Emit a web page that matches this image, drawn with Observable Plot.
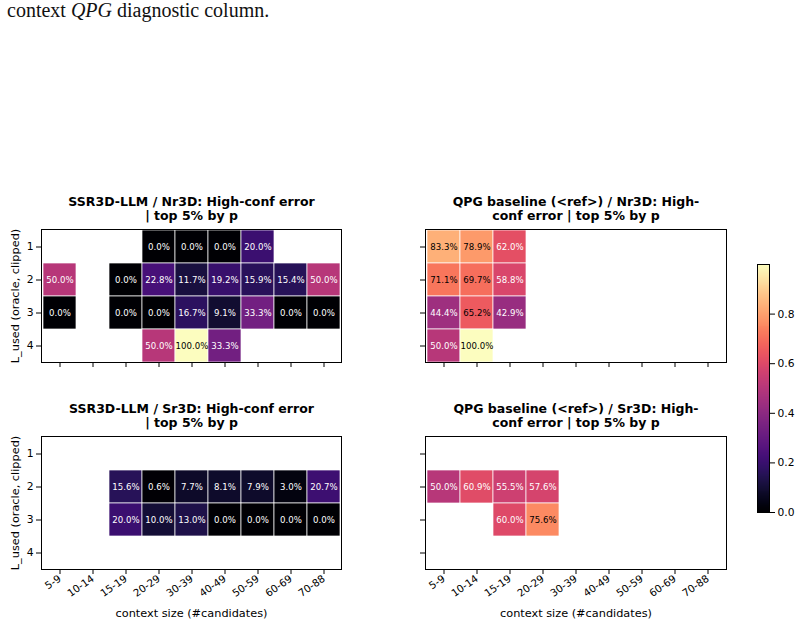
<!DOCTYPE html>
<html><head><meta charset="utf-8">
<script src="https://cdn.jsdelivr.net/npm/d3@7"></script>
<script src="https://cdn.jsdelivr.net/npm/@observablehq/plot@0.6"></script>
<style>
body{margin:0;background:white;}
#root{position:relative;width:800px;height:625px;overflow:hidden;font-family:"DejaVu Sans",sans-serif;background:white;}
#root svg{position:absolute;font-family:"DejaVu Sans",sans-serif !important;}
#root svg text{font-family:"DejaVu Sans",sans-serif !important;}
#lead{position:absolute;left:7px;top:-1px;font-family:"Liberation Serif","Times New Roman",serif;font-size:20px;line-height:23px;color:#111;white-space:nowrap;}
</style></head><body><div id="root"><div id="lead">context <i>QPG</i> diagnostic column.</div></div>
<script>
const contextBins = ["5-9","10-14","15-19","20-29","30-39","40-49","50-59","60-69","70-88"];
const lUsedLevels = [1, 2, 3, 4];
const colorbarTicks = [0, 0.2, 0.4, 0.6, 0.8];
// values in %, null = empty cell; rows = L_used 1..4, columns = contextBins
const ssrNr3d = [
  [null, null, null, 0.0, 0.0, 0.0, 20.0, null, null],
  [50.0, null, 0.0, 22.8, 11.7, 19.2, 15.9, 15.4, 50.0],
  [0.0, null, 0.0, 0.0, 16.7, 9.1, 33.3, 0.0, 0.0],
  [null, null, null, 50.0, 100.0, 33.3, null, null, null]
];
const qpgNr3d = [
  [83.3, 78.9, 62.0, null, null, null, null, null, null],
  [71.1, 69.7, 58.8, null, null, null, null, null, null],
  [44.4, 65.2, 42.9, null, null, null, null, null, null],
  [50.0, 100.0, null, null, null, null, null, null, null]
];
const ssrSr3d = [
  [null, null, null, null, null, null, null, null, null],
  [null, null, 15.6, 0.6, 7.7, 8.1, 7.9, 3.0, 20.7],
  [null, null, 20.0, 10.0, 13.0, 0.0, 0.0, 0.0, 0.0],
  [null, null, null, null, null, null, null, null, null]
];
const qpgSr3d = [
  [null, null, null, null, null, null, null, null, null],
  [50.0, 60.9, 55.5, 57.6, null, null, null, null, null],
  [null, null, 60.0, 75.6, null, null, null, null, null],
  [null, null, null, null, null, null, null, null, null]
];
const titles = [
  "SSR3D-LLM / Nr3D: High-conf error\n| top 5% by p",
  "QPG baseline (<ref>) / Nr3D: High-\nconf error | top 5% by p",
  "SSR3D-LLM / Sr3D: High-conf error\n| top 5% by p",
  "QPG baseline (<ref>) / Sr3D: High-\nconf error | top 5% by p"
];
const yLabel = "L_used (oracle, clipped)";
const xLabel = "context size (#candidates)";

const colorScale = {type: "linear", scheme: "magma", domain: [0, 1]};
const root = document.getElementById("root");
const FONT = "DejaVu Sans";
const baseStyle = {fontFamily: "'DejaVu Sans', sans-serif", fontSize: "10px", background: "transparent", overflow: "visible", color: "black"};

function panel({title, grid, left, top, width, height, mt, mb, ml, mr, showX, showY}) {
  const data = [];
  grid.forEach((row, i) => row.forEach((v, j) => {
    if (v != null) data.push({x: contextBins[j], y: lUsedLevels[i], v: v / 100});
  }));
  const fmt = d => d3.format(".1f")(d.v * 100) + "%";
  const marks = [
    Plot.cell(data, {x: "x", y: "y", fill: "v", stroke: "white", strokeWidth: 0.7}),
    Plot.text(data.filter(d => d.v > 0.63), {x: "x", y: "y", text: fmt, fill: "black", fontSize: 8.6, fontFamily: FONT}),
    Plot.text(data.filter(d => d.v <= 0.63), {x: "x", y: "y", text: fmt, fill: "white", fontSize: 8.6, fontFamily: FONT}),
    Plot.frame({stroke: "black", strokeWidth: 1}),
    Plot.axisX({tickSize: 5, tickPadding: 3, tickRotate: showX ? -35 : 0, label: null, fontSize: 10.3, fontFamily: FONT,
      tickFormat: showX ? d => d : () => ""}),
    Plot.axisY({tickSize: 5, tickPadding: 3, label: null, fontSize: 10.8, fontFamily: FONT,
      tickFormat: showY ? d => d : () => ""}),
    Plot.text([title], {frameAnchor: "top", dy: -21, lineAnchor: "middle", text: d => d,
      fontWeight: "bold", fontSize: 12.5, lineHeight: 1.12, fontFamily: FONT})
  ];
  if (showY) marks.push(Plot.text([yLabel], {frameAnchor: "left", dx: -26, rotate: -90, textAnchor: "middle", lineAnchor: "middle", text: d => d, fontSize: 11.3, fontFamily: FONT}));
  if (showX) marks.push(Plot.text([xLabel], {frameAnchor: "bottom", dy: 44, textAnchor: "middle", lineAnchor: "middle", text: d => d, fontSize: 11.3, fontFamily: FONT}));
  const svg = Plot.plot({
    width, height, marginTop: mt, marginBottom: mb, marginLeft: ml, marginRight: mr,
    x: {type: "band", domain: contextBins, padding: 0},
    y: {type: "band", domain: lUsedLevels, padding: 0},
    color: colorScale,
    style: baseStyle,
    marks
  });
  svg.style.left = left + "px";
  svg.style.top = top + "px";
  root.appendChild(svg);
}

panel({title: titles[0], grid: ssrNr3d, left: 0, top: 180, width: 360, height: 200, mt: 49, mb: 18, ml: 41, mr: 19, showX: false, showY: true});
panel({title: titles[1], grid: qpgNr3d, left: 384, top: 180, width: 360, height: 200, mt: 49, mb: 18, ml: 41, mr: 18, showX: false, showY: false});
panel({title: titles[2], grid: ssrSr3d, left: 0, top: 390, width: 360, height: 235, mt: 46, mb: 56, ml: 41, mr: 19, showX: true, showY: true});
panel({title: titles[3], grid: qpgSr3d, left: 384, top: 390, width: 360, height: 235, mt: 46, mb: 56, ml: 41, mr: 18, showX: true, showY: false});

// colorbar
const step = 0.004;
const stops = d3.range(0, 1, step);
const cb = Plot.plot({
  width: 60, height: 275, marginTop: 14, marginBottom: 13, marginLeft: 17, marginRight: 31,
  x: {domain: [0, 1], axis: null},
  y: {domain: [0, 1], axis: null},
  color: colorScale,
  style: baseStyle,
  marks: [
    Plot.rect(stops, {x1: 0, x2: 1, y1: d => d, y2: d => Math.min(1, d + step + 0.001), fill: d => d + step / 2, shapeRendering: "crispEdges"}),
    Plot.frame({stroke: "black", strokeWidth: 1}),
    Plot.axisY({anchor: "right", ticks: colorbarTicks, tickFormat: ".1f", tickSize: 5, tickPadding: 3, label: null, fontSize: 10.7, fontFamily: FONT})
  ]
});
cb.style.left = "740px";
cb.style.top = "250px";
root.appendChild(cb);
</script></body></html>
